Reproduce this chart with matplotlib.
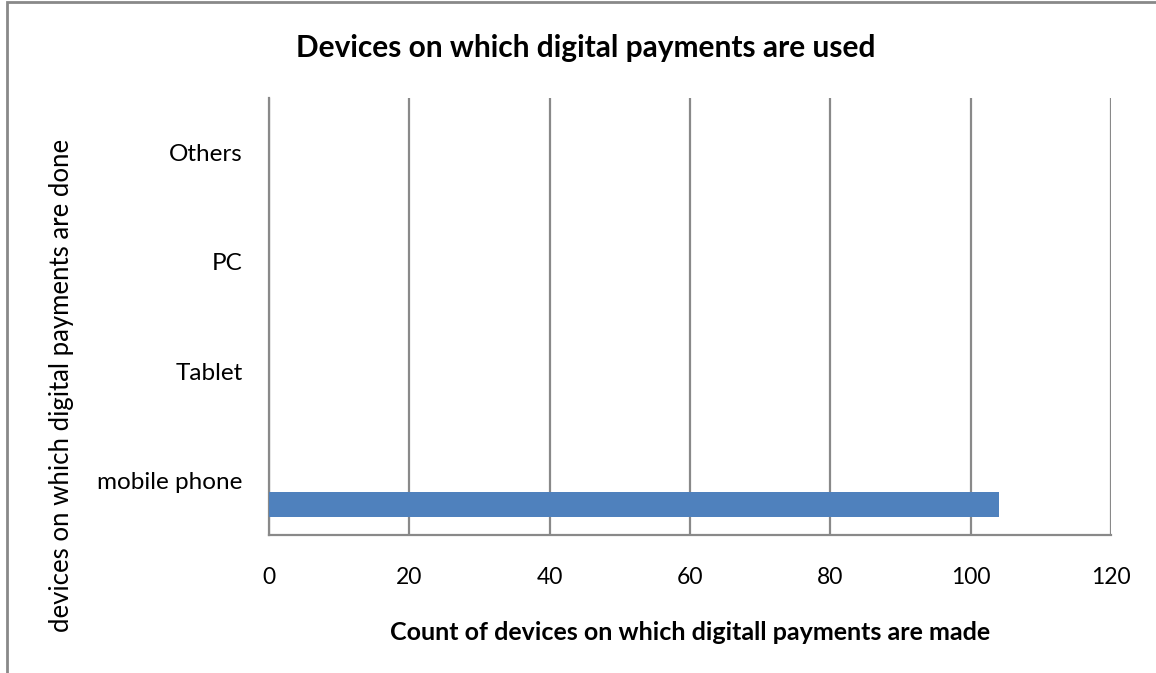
import numpy as np
import matplotlib.pyplot as plt
from matplotlib.patches import Rectangle

devices = ['mobile phone', 'Tablet', 'PC', 'Others']
counts = [104, 0, 0, 0]
xticks = [0, 20, 40, 60, 80, 100, 120]

plt.rcParams['font.family'] = ['Lato', 'DejaVu Sans']
grey = '#898989'

fig = plt.figure(figsize=(11.56, 6.73), dpi=100)
# plot area in figure fractions
W, H = 1156, 673
ax = fig.add_axes([269 / W, 1 - 535 / H, (1111 - 269) / W, (535 - 98) / H])

pos = np.arange(len(devices))
# third slot of a three-series cluster, so the bar sits below the label
ax.barh(pos - 0.22, counts, height=0.226, color='#4F81BD', zorder=3)

ax.set_xlim(0, 120)
ax.set_ylim(-0.5, len(devices) - 0.5)
ax.set_xticks(xticks)
ax.set_yticks(pos)
ax.set_yticklabels(devices)
ax.tick_params(axis='both', length=0)
ax.tick_params(axis='x', pad=23, labelsize=16.5)
ax.tick_params(axis='y', pad=19, labelsize=17.5)
ax.grid(axis='x', color=grey, linewidth=1.6, zorder=0)
for s in ['top', 'right']:
    ax.spines[s].set_visible(False)
for s in ['left', 'bottom']:
    ax.spines[s].set_color(grey)
    ax.spines[s].set_linewidth(1.6)

fig.text(586 / W, 1 - 48 / H, 'Devices on which digital payments are used',
         ha='center', va='center', fontsize=21.5, fontweight='bold')
fig.text(690 / W, 1 - 633 / H, 'Count of devices on which digitall payments are made',
         ha='center', va='center', fontsize=18, fontweight='bold')
fig.text(62 / W, 1 - 385 / H, 'devices on which digital payments are done',
         ha='center', va='center', rotation=90, fontsize=18.5)

# chart frame along the top and left edges
fig.patches.append(Rectangle((7 / W, -0.1), 1.2, 1 - 2 / H + 0.1, transform=fig.transFigure,
                             fill=False, edgecolor=grey, linewidth=2))

fig.savefig('out.png', dpi=100)
